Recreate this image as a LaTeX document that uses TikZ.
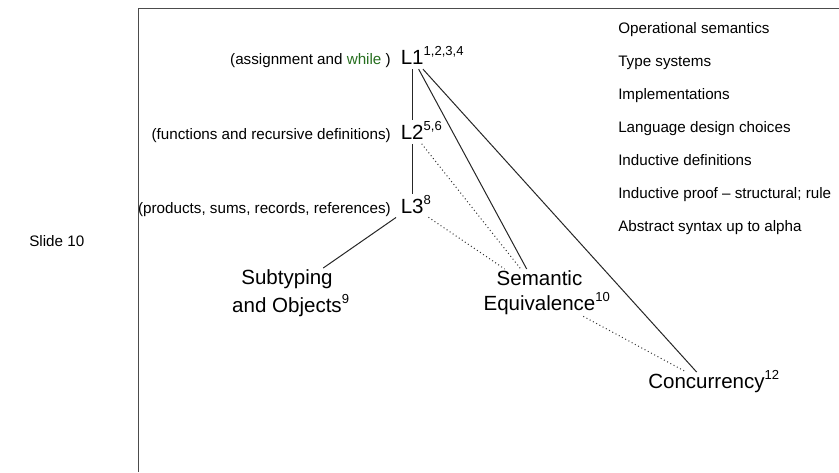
\documentclass[tikz,border=0pt]{standalone}
\usepackage{fontspec}
\setmainfont{Liberation Sans}
\usetikzlibrary{positioning}
\definecolor{kwgreen}{RGB}{38,110,30}
\newcommand{\sups}[1]{\rlap{\smash{\raisebox{6.75pt}{\fontsize{9.8}{11}\selectfont #1}}}}

\begin{document}
\begin{tikzpicture}[x=0.75pt, y=-0.75pt, node distance={3.75pt},
  lang/.style = {font=\fontsize{15.4}{21}\selectfont, inner sep=3.4pt},
  note/.style = {font=\fontsize{11.4}{14}\selectfont, inner sep=0pt},
  topic/.style = {font=\fontsize{15.4}{21}\selectfont, align=center, inner sep=1pt},
  link/.style = {line width=0.75pt, black!85},
  weak/.style = {line width=0.75pt, dotted, black!80}]
\useasboundingbox (0,0) rectangle (839,472);
\draw[line width=1.1pt, black!70] (839,8.5) -- (138.5,8.5) -- (138.5,472);
\node[note, anchor=base east] (slide) at (84.5,246) {Slide 10};

% the three languages
\node[lang, anchor=base west] (l1) at (396,64.3) {L1\sups{1,2,3,4}};
\node[lang, anchor=base west] (l2) at (396,139) {L2\sups{5,6}};
\node[lang, anchor=base west] (l3) at (396,213.3) {L3\sups{8}};
\node[note, base left=of l1] (n1) {(assignment and \textcolor{kwgreen}{while} )};
\node[note, base left=of l2] (n2) {(functions and recursive definitions)};
\node[note, base left=of l3] (n3) {(products, sums, records, references)};

\node[topic, anchor=north] (sub) at (287,268) {Subtyping\\and Objects\sups{9}};
\node[topic, anchor=north] (sem) at (539.5,269) {Semantic\\[-2.25pt]Equivalence\sups{10}};
\node[topic, anchor=base] (conc) at (706.5,388) {Concurrency\sups{12}};

% topics on the right
\foreach \t [count=\i from 0] in {Operational semantics, Type systems, Implementations,
  Language design choices, Inductive definitions, Inductive proof – structural; rule,
  Abstract syntax up to alpha}
  \node[note, anchor=base west] (item\i) at (618,33+33*\i) {\t};

\draw[link] (l1) -- (l2);
\draw[link] (l2) -- (l3);
\draw[link] (l1) -- (sem);
\draw[link] (l1) -- (conc);
\draw[link] (l3) -- (sub);
\draw[weak] (l2) -- (sem);
\draw[weak] (l3) -- (sem);
\draw[weak] (sem) -- (conc);
\end{tikzpicture}
\end{document}
